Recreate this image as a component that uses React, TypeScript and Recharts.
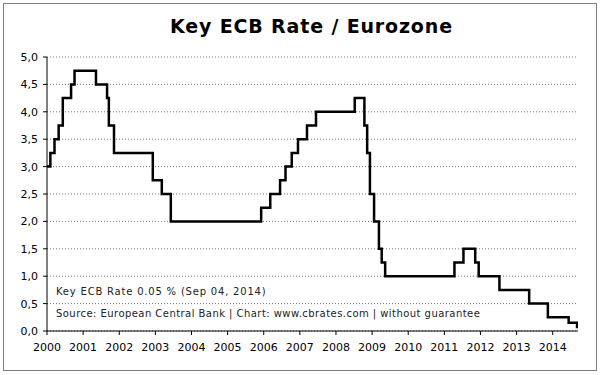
import React from "react";
import { LineChart, Line, XAxis, YAxis, CartesianGrid } from "recharts";

// Key ECB rate change dates and levels (%)
const changeDates: string[] = [
  "2000-01-01", "2000-02-04", "2000-03-17", "2000-04-28", "2000-06-09", "2000-09-01", "2000-10-06",
  "2001-05-11", "2001-08-31", "2001-09-18", "2001-11-09", "2002-12-06", "2003-03-07", "2003-06-06",
  "2005-12-06", "2006-03-08", "2006-06-15", "2006-08-09", "2006-10-11", "2006-12-13", "2007-03-14",
  "2007-06-13", "2008-07-09", "2008-10-15", "2008-11-12", "2008-12-10", "2009-01-21", "2009-03-11",
  "2009-04-08", "2009-05-13", "2011-04-13", "2011-07-13", "2011-11-09", "2011-12-14", "2012-07-11",
  "2013-05-08", "2013-11-13", "2014-06-11", "2014-09-04",
];
const rateValues: number[] = [
  3.0, 3.25, 3.5, 3.75, 4.25, 4.5, 4.75,
  4.5, 4.25, 3.75, 3.25, 2.75, 2.5, 2.0,
  2.25, 2.5, 2.75, 3.0, 3.25, 3.5, 3.75,
  4.0, 4.25, 3.75, 3.25, 2.5, 2.0, 1.5,
  1.25, 1.0, 1.25, 1.5, 1.25, 1.0, 0.75,
  0.5, 0.25, 0.15, 0.05,
];
const yearTicks: number[] = [2000, 2001, 2002, 2003, 2004, 2005, 2006, 2007, 2008, 2009, 2010, 2011, 2012, 2013, 2014];
const rateTicks: number[] = [0, 0.5, 1, 1.5, 2, 2.5, 3, 3.5, 4, 4.5, 5];

const titleText = "Key ECB Rate / Eurozone";
const noteText = "Key ECB Rate 0.05 % (Sep 04, 2014)";
const sourceText = "Source: European Central Bank | Chart: www.cbrates.com | without guarantee";

function toYear(d: string): number {
  const [y, m, day] = d.split("-").map(Number);
  const start = Date.UTC(y, 0, 1);
  const end = Date.UTC(y + 1, 0, 1);
  return y + (Date.UTC(y, m - 1, day) - start) / (end - start);
}

const data = changeDates.map((d, i) => ({ t: toYear(d), rate: rateValues[i] }));

const FONT = "'DejaVu Sans', Verdana, sans-serif";

export default function App() {
  return (
    <div style={{ position: "absolute", left: 0, top: 0, width: 600, height: 375, background: "#fff", fontFamily: FONT }}>
      <div style={{ position: "absolute", left: 3, top: 3, width: 592, height: 366, border: "1.5px solid #808080" }} />
      <div style={{ position: "absolute", left: 170, top: 15, lineHeight: "22px", fontSize: 19, letterSpacing: 0.85, fontWeight: "bold", color: "#000", whiteSpace: "nowrap" }}>
        {titleText}
      </div>
      <LineChart width={600} height={375} data={data} margin={{ top: 57, right: 22, bottom: 14, left: 7 }}>
        <CartesianGrid horizontal vertical={false} stroke="#777" strokeDasharray="1 2" />
        <XAxis
          dataKey="t"
          type="number"
          domain={[2000, 2014.7]}
          ticks={yearTicks}
          allowDataOverflow
          height={30}
          tick={{ fill: "#000", fontSize: 11, fontFamily: FONT }}
          tickSize={4}
          tickMargin={8}
          axisLine={{ stroke: "#000", strokeWidth: 1 }}
          tickLine={{ stroke: "#000" }}
        />
        <YAxis
          type="number"
          domain={[0, 5]}
          ticks={rateTicks}
          width={40}
          tick={{ fill: "#000", fontSize: 11, fontFamily: FONT }}
          tickFormatter={(v: number) => v.toFixed(1).replace(".", ",")}
          tickSize={4}
          tickMargin={5}
          axisLine={{ stroke: "#000", strokeWidth: 1 }}
          tickLine={{ stroke: "#000" }}
        />
        <Line
          type="stepAfter"
          dataKey="rate"
          stroke="#000"
          strokeWidth={2.5}
          dot={false}
          isAnimationActive={false}
        />
      </LineChart>
      <div style={{ position: "absolute", left: 56, top: 286, lineHeight: "12px", fontSize: 10, letterSpacing: 0.8, color: "#222", whiteSpace: "nowrap" }}>{noteText}</div>
      <div style={{ position: "absolute", left: 56, top: 308, lineHeight: "12px", fontSize: 10, letterSpacing: 0.45, color: "#222", whiteSpace: "nowrap" }}>{sourceText}</div>
    </div>
  );
}
